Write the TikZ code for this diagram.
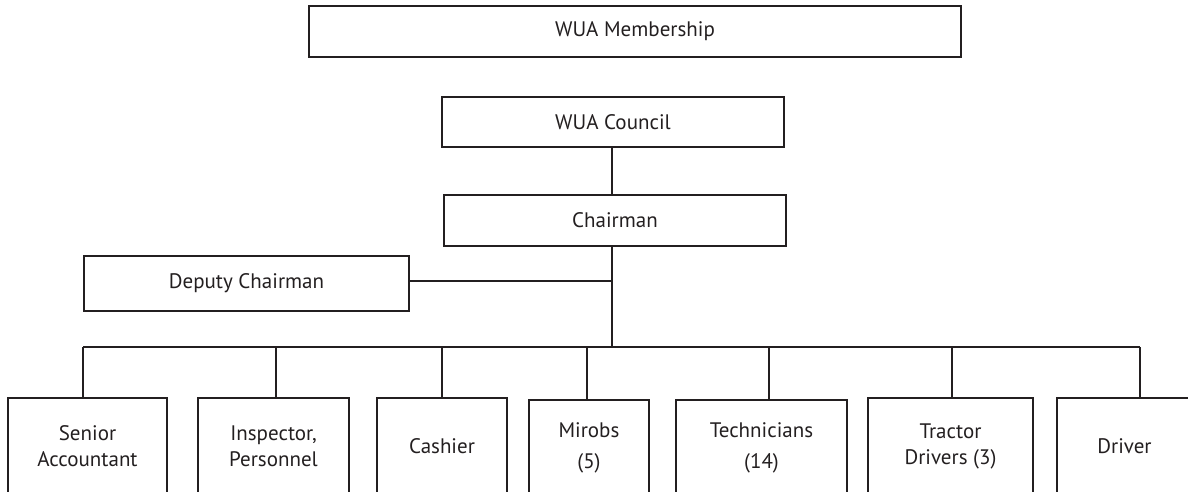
\documentclass[tikz,border=0pt]{standalone}
\usepackage{fontspec}
\setmainfont{PT Sans}
\definecolor{ink}{HTML}{231F20}
\begin{document}
\begin{tikzpicture}[x=1pt,y=-1pt,
  box/.style={draw=ink,line width=2pt,rectangle,inner sep=0pt,align=center,
    text=ink,font=\fontsize{21}{26}\selectfont},
  wide/.style={font=\fontsize{21}{31}\selectfont},
  conn/.style={draw=ink,line width=2pt}]
\useasboundingbox (0,0) rectangle (1188,491);
\clip (0,0) rectangle (1188,491);
\node[box,minimum width=652pt,minimum height=51pt] (mem) at (635,31.5) {WUA Membership};
\node[box,minimum width=342pt,minimum height=50pt] (council) at (613,122) {WUA Council};
\node[box,minimum width=342pt,minimum height=51pt] (chair) at (615,220.5) {Chairman};
\node[box,minimum width=325pt,minimum height=55pt] (deputy) at (246.5,283.5) {Deputy Chairman};
\node[box,minimum width=159pt,minimum height=96pt] (sa) at (87.5,446) {Senior\\Accountant};
\node[box,minimum width=151pt,minimum height=96pt] (ip) at (273.5,446) {Inspector,\\Personnel};
\node[box,minimum width=130pt,minimum height=96pt] (ca) at (442,446) {Cashier};
\node[box,wide,minimum width=120pt,minimum height=96pt] (mi) at (589,448) {Mirobs\\(5)};
\node[box,wide,minimum width=171pt,minimum height=96pt] (te) at (761.5,448) {Technicians\\(14)};
\node[box,minimum width=165pt,minimum height=96pt] (tr) at (950.5,446) {Tractor\\Drivers (3)};
\node[box,minimum width=135pt,minimum height=96pt] (dr) at (1124.5,446) {Driver};
\coordinate (trunk) at (612,347);
\coordinate (djoin) at ([yshift=2.5pt]deputy.east);
\coordinate (b1) at (83,347);
\coordinate (b2) at (276,347);
\coordinate (b3) at (442,347);
\coordinate (b4) at (587,347);
\coordinate (b5) at (769,347);
\coordinate (b6) at (952,347);
\coordinate (b7) at (1140,347);
\draw[conn] (trunk |- council.south) -- (trunk |- chair.north);
\draw[conn] (trunk |- chair.south) -- (trunk);
\draw[conn] (djoin) -- (djoin -| trunk);
\draw[conn] (b1) -- (b7);
\draw[conn] (b1) -- (b1 |- sa.north);
\draw[conn] (b2) -- (b2 |- ip.north);
\draw[conn] (b3) -- (b3 |- ca.north);
\draw[conn] (b4) -- (b4 |- mi.north);
\draw[conn] (b5) -- (b5 |- te.north);
\draw[conn] (b6) -- (b6 |- tr.north);
\draw[conn] (b7) -- (b7 |- dr.north);
\end{tikzpicture}
\end{document}
